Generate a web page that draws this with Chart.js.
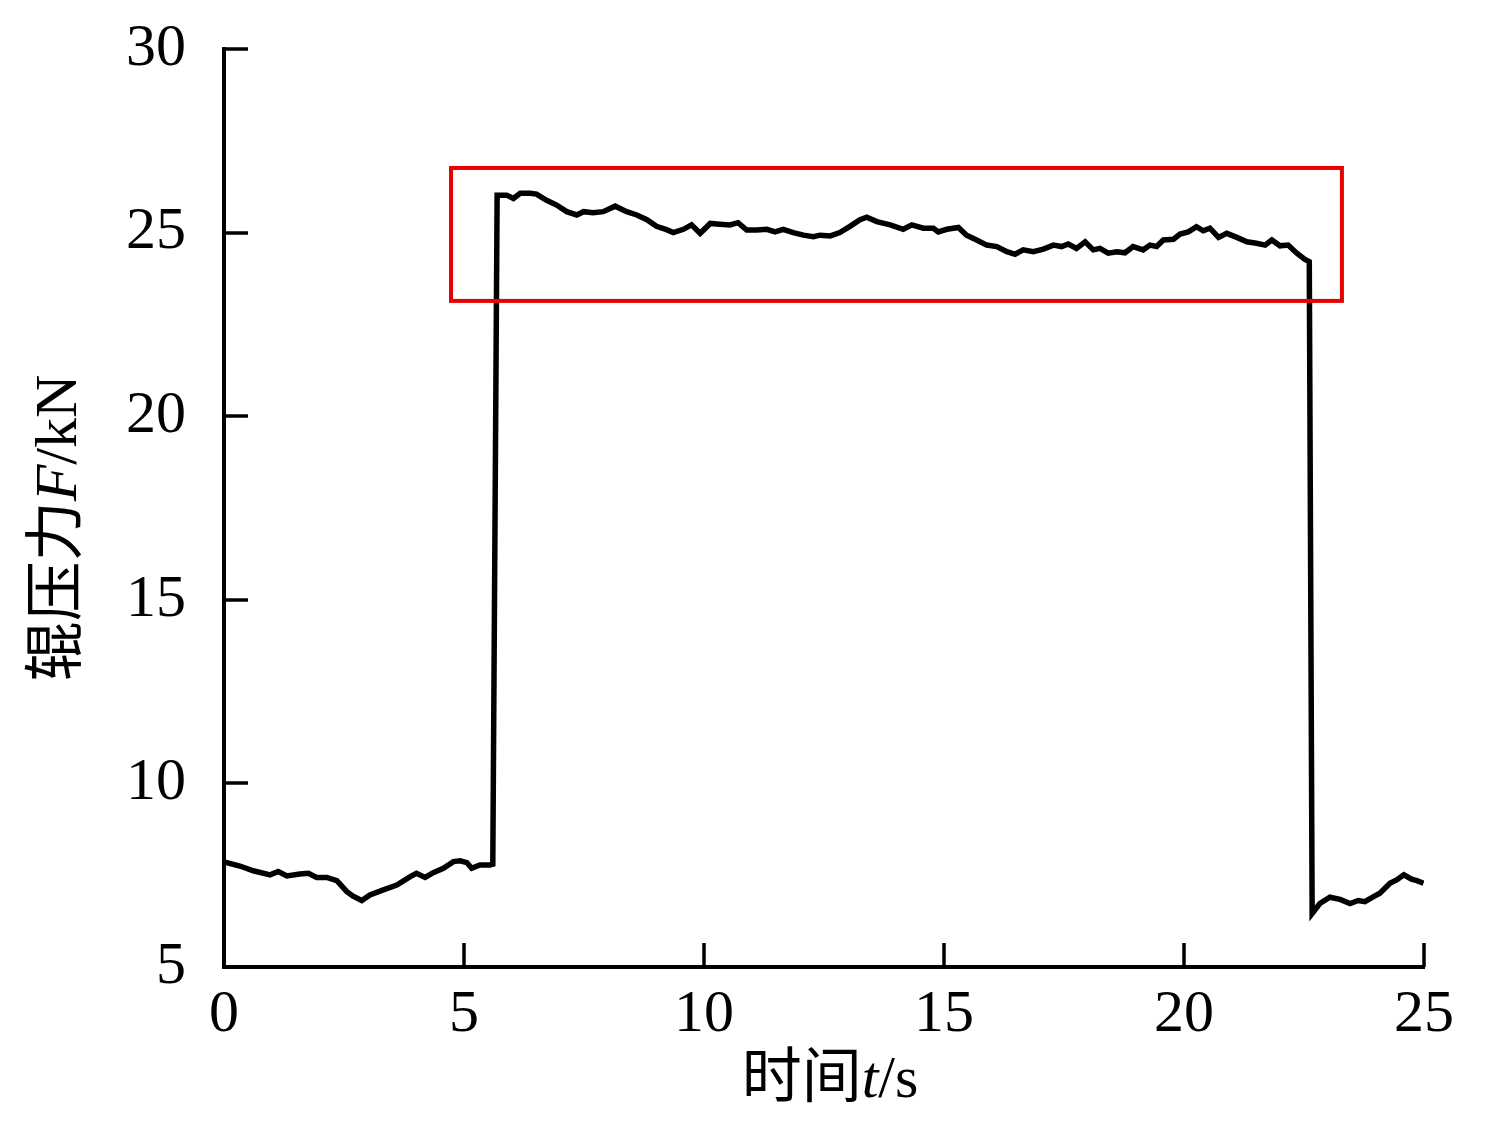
<!DOCTYPE html>
<html>
<head>
<meta charset="utf-8">
<script src="https://cdn.jsdelivr.net/npm/chart.js@4/dist/chart.umd.min.js"></script>
<style>
  html, body { margin: 0; padding: 0; background: #fff; }
  #wrap { width: 1488px; height: 1144px; }
</style>
</head>
<body>
<div id="wrap"><canvas id="forceChart" width="1488" height="1144"></canvas></div>
<script>
// time (s) and roll force (kN)
const times = [
  0.00, 0.33, 0.61, 0.96, 1.13, 1.31, 1.58, 1.76, 1.93, 2.14, 2.35, 2.56, 2.69, 2.87, 3.04,
  3.32, 3.60, 3.88, 4.01, 4.19, 4.36, 4.57, 4.78, 4.92, 5.06, 5.16, 5.33, 5.54, 5.60,
  5.69, 5.89, 6.03, 6.17, 6.38, 6.51, 6.72, 6.93, 7.14, 7.35, 7.49, 7.69, 7.90, 8.15,
  8.39, 8.60, 8.81, 9.01, 9.22, 9.36, 9.57, 9.74, 9.92, 10.13, 10.33, 10.54, 10.71, 10.89,
  11.10, 11.31, 11.48, 11.65, 11.86, 12.07, 12.28, 12.42, 12.63, 12.83, 13.04, 13.25, 13.39,
  13.60, 13.88, 14.15, 14.33, 14.57, 14.78, 14.88, 15.06, 15.30, 15.47, 15.68, 15.89, 16.10,
  16.31, 16.48, 16.65, 16.86, 17.07, 17.28, 17.45, 17.59, 17.76, 17.94, 18.11, 18.25, 18.42,
  18.60, 18.77, 18.94, 19.15, 19.29, 19.43, 19.57, 19.78, 19.92, 20.09, 20.26, 20.40, 20.54,
  20.72, 20.89, 21.10, 21.31, 21.51, 21.69, 21.83, 22.00, 22.17, 22.35, 22.52, 22.61,
  22.67, 22.83, 23.04, 23.25, 23.46, 23.63, 23.77, 23.94, 24.08, 24.29, 24.43, 24.58, 24.74,
  24.85, 24.99
];
const force = [
  7.86, 7.75, 7.62, 7.51, 7.60, 7.48, 7.53, 7.55, 7.44, 7.44, 7.35, 7.05, 6.93, 6.81, 6.96,
  7.10, 7.23, 7.46, 7.55, 7.44, 7.57, 7.69, 7.87, 7.89, 7.84, 7.69, 7.78, 7.78, 7.80,
  26.02, 26.02, 25.93, 26.07, 26.07, 26.05, 25.88, 25.75, 25.57, 25.48, 25.57, 25.54, 25.57, 25.72,
  25.57, 25.48, 25.35, 25.17, 25.08, 25.00, 25.09, 25.21, 24.98, 25.25, 25.23, 25.21, 25.27, 25.07,
  25.07, 25.09, 25.02, 25.09, 25.00, 24.93, 24.89, 24.93, 24.91, 25.00, 25.17, 25.35, 25.42,
  25.30, 25.21, 25.09, 25.21, 25.12, 25.12, 25.02, 25.09, 25.14, 24.93, 24.80, 24.66, 24.62,
  24.48, 24.41, 24.53, 24.48, 24.55, 24.66, 24.62, 24.69, 24.57, 24.75, 24.53, 24.57, 24.44,
  24.48, 24.45, 24.62, 24.53, 24.66, 24.62, 24.80, 24.82, 24.96, 25.02, 25.16, 25.05, 25.12,
  24.87, 24.98, 24.87, 24.75, 24.71, 24.66, 24.80, 24.64, 24.66, 24.44, 24.27, 24.21,
  6.46, 6.73, 6.90, 6.84, 6.73, 6.81, 6.78, 6.91, 7.01, 7.28, 7.37, 7.51, 7.39,
  7.35, 7.28
];
const xTicks = [0, 5, 10, 15, 20, 25];
const yTicks = [5, 10, 15, 20, 25, 30];
// highlighted window: [t0, t1] and [F0, F1]
const boxT = [4.73, 23.29];
const boxF = [23.14, 26.76];

const serif = '"Liberation Serif", "Times New Roman", "Noto Sans CJK SC", serif';
const xTitle = [{ t: "时间" }, { t: "t", it: true }, { t: "/s" }];
const yTitle = [{ t: "辊压力" }, { t: "F", it: true }, { t: "/kN" }];

function drawRuns(ctx, runs, size) {
  const fonts = runs.map(r => (r.it ? "italic " : "") + size + "px " + serif);
  let total = 0;
  const widths = runs.map((r, i) => { ctx.font = fonts[i]; const w = ctx.measureText(r.t).width; total += w; return w; });
  let x = -total / 2;
  runs.forEach((r, i) => {
    ctx.font = fonts[i];
    ctx.fillText(r.t, x, 0);
    x += widths[i];
  });
}

const extras = {
  id: "extras",
  afterDraw(chart) {
    const ctx = chart.ctx;
    const xs = chart.scales.x, ys = chart.scales.y;
    const area = chart.chartArea;
    const top = ys.getPixelForValue(30), bottom = ys.getPixelForValue(5);
    ctx.save();
    // inward ticks
    ctx.strokeStyle = "#000";
    ctx.lineWidth = 3.5;
    ctx.beginPath();
    xTicks.forEach(v => {
      const px = Math.round(xs.getPixelForValue(v));
      ctx.moveTo(px, bottom);
      ctx.lineTo(px, bottom - 24);
    });
    yTicks.forEach(v => {
      const py = Math.round(ys.getPixelForValue(v));
      ctx.moveTo(area.left, py);
      ctx.lineTo(area.left + 24, py);
    });
    ctx.stroke();

    // red box
    const x0 = xs.getPixelForValue(boxT[0]), x1 = xs.getPixelForValue(boxT[1]);
    const y0 = ys.getPixelForValue(boxF[1]), y1 = ys.getPixelForValue(boxF[0]);
    ctx.strokeStyle = "#e60000";
    ctx.lineWidth = 4;
    ctx.strokeRect(x0, y0, x1 - x0, y1 - y0);

    // axis titles
    ctx.fillStyle = "#000";
    ctx.textBaseline = "alphabetic";
    ctx.textAlign = "left";
    ctx.save();
    ctx.translate((area.left + area.right) / 2 + 6, 1097);
    drawRuns(ctx, xTitle, 60);
    ctx.restore();
    ctx.save();
    ctx.translate(76, (top + bottom) / 2 + 20);
    ctx.rotate(-Math.PI / 2);
    drawRuns(ctx, yTitle, 60);
    ctx.restore();
    ctx.restore();
  }
};

new Chart(document.getElementById("forceChart"), {
  type: "line",
  data: {
    datasets: [{
      data: times.map((t, i) => ({ x: t, y: force[i] })),
      borderColor: "#000",
      borderWidth: 5.5,
      pointRadius: 0,
      tension: 0,
      fill: false
    }]
  },
  options: {
    responsive: false,
    animation: false,
    devicePixelRatio: 1,
    layout: { padding: { top: 49, right: 64, left: 0, bottom: 0 } },
    plugins: { legend: { display: false }, tooltip: { enabled: false } },
    scales: {
      x: {
        type: "linear",
        min: 0, max: 25,
        afterFit: s => { s.height = 177; s.paddingLeft = 0; s.paddingRight = 0; },
        afterBuildTicks: s => { s.ticks = xTicks.map(v => ({ value: v })); },
        grid: { display: true, drawOnChartArea: false, drawTicks: false },
        border: { display: true, color: "#000", width: 4 },
        ticks: { color: "#000", padding: 12, font: { family: serif, size: 60 } }
      },
      y: {
        min: 5, max: 30,
        afterFit: s => { s.width = 224; s.paddingTop = 0; s.paddingBottom = 0; },
        afterBuildTicks: s => { s.ticks = yTicks.map(v => ({ value: v })); },
        grid: { display: true, drawOnChartArea: false, drawTicks: false },
        border: { display: true, color: "#000", width: 4 },
        ticks: { color: "#000", padding: 38, font: { family: serif, size: 60 } }
      }
    }
  },
  plugins: [extras]
});
</script>
</body>
</html>
